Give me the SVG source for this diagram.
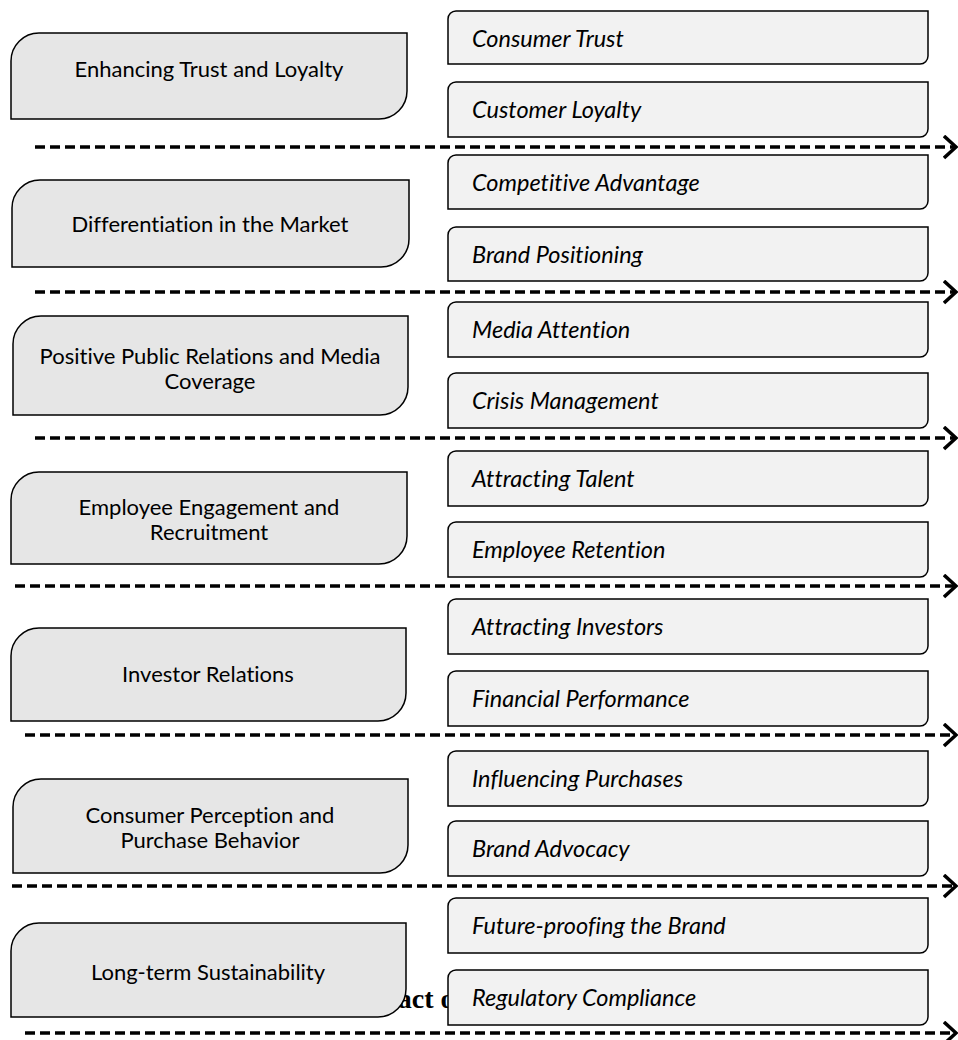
<svg xmlns="http://www.w3.org/2000/svg" width="958" height="1040" viewBox="0 0 958 1040">
<style>
.bg{fill:#fff}
.main{fill:#e6e6e6;stroke:#000;stroke-width:1.5}
.sub{fill:#f2f2f2;stroke:#000;stroke-width:1.5}
.mt{font-family:Lato,"Open Sans",sans-serif;font-size:22px;fill:#000;text-anchor:middle;font-variant-ligatures:none}
.st{font-family:Lato,"Open Sans",sans-serif;font-size:23.5px;font-style:italic;fill:#000;font-variant-ligatures:none}
.conn{fill:none;stroke:#000;stroke-width:3.5;stroke-dasharray:10 5}
.title{font-family:"Liberation Serif","Times New Roman",serif;font-size:28px;font-weight:bold;fill:#000}
</style>
<defs>
<marker id="arr" markerUnits="userSpaceOnUse" markerWidth="16" markerHeight="26" refX="13" refY="12" orient="auto" viewBox="0 0 16 26">
<path d="M1,1 L13,12 L1,23" fill="none" stroke="#000" stroke-width="3.5"/>
</marker>
</defs>
<rect class="bg" x="0" y="0" width="958" height="1040"/>
<text class="title" x="348" y="1008">Impact of</text>
<g id="connectors">
<path class="conn" d="M35,147 H956" marker-end="url(#arr)"/>
<path class="conn" d="M35,292 H956" marker-end="url(#arr)"/>
<path class="conn" d="M35,438 H956" marker-end="url(#arr)"/>
<path class="conn" d="M15,586 H956" marker-end="url(#arr)"/>
<path class="conn" d="M25,735 H956" marker-end="url(#arr)"/>
<path class="conn" d="M12,886 H956" marker-end="url(#arr)"/>
<path class="conn" d="M25,1033 H956" marker-end="url(#arr)"/>
</g>
<g id="n1"><path class="main" d="M39,33 H407 V91 A28,28 0 0 1 379,119 H11 V61 A28,28 0 0 1 39,33 Z"/><text class="mt" x="209" y="77">Enhancing Trust and Loyalty</text></g>
<g id="n2"><path class="main" d="M40,180 H409 V239 A28,28 0 0 1 381,267 H12 V208 A28,28 0 0 1 40,180 Z"/><text class="mt" x="210" y="232">Differentiation in the Market</text></g>
<g id="n3"><path class="main" d="M41,316 H408 V387 A28,28 0 0 1 380,415 H13 V344 A28,28 0 0 1 41,316 Z"/><text class="mt" x="210" y="364">Positive Public Relations and Media</text><text class="mt" x="210" y="389">Coverage</text></g>
<g id="n4"><path class="main" d="M39,472 H407 V536 A28,28 0 0 1 379,564 H11 V500 A28,28 0 0 1 39,472 Z"/><text class="mt" x="209" y="515">Employee Engagement and</text><text class="mt" x="209" y="540">Recruitment</text></g>
<g id="n5"><path class="main" d="M39,628 H406 V693 A28,28 0 0 1 378,721 H11 V656 A28,28 0 0 1 39,628 Z"/><text class="mt" x="208" y="682">Investor Relations</text></g>
<g id="n6"><path class="main" d="M41,779 H408 V845 A28,28 0 0 1 380,873 H13 V807 A28,28 0 0 1 41,779 Z"/><text class="mt" x="210" y="823">Consumer Perception and</text><text class="mt" x="210" y="848">Purchase Behavior</text></g>
<g id="n7"><path class="main" d="M39,923 H406 V989 A28,28 0 0 1 378,1017 H11 V951 A28,28 0 0 1 39,923 Z"/><text class="mt" x="208" y="980">Long-term Sustainability</text></g>
<g id="s1"><path class="sub" d="M456,11 H928 V56 A8,8 0 0 1 920,64 H448 V19 A8,8 0 0 1 456,11 Z"/><text class="st" x="472" y="47">Consumer Trust</text></g>
<g id="s2"><path class="sub" d="M456,82 H928 V129 A8,8 0 0 1 920,137 H448 V90 A8,8 0 0 1 456,82 Z"/><text class="st" x="472" y="118">Customer Loyalty</text></g>
<g id="s3"><path class="sub" d="M456,155 H928 V201 A8,8 0 0 1 920,209 H448 V163 A8,8 0 0 1 456,155 Z"/><text class="st" x="472" y="191">Competitive Advantage</text></g>
<g id="s4"><path class="sub" d="M456,227 H928 V273 A8,8 0 0 1 920,281 H448 V235 A8,8 0 0 1 456,227 Z"/><text class="st" x="472" y="263">Brand Positioning</text></g>
<g id="s5"><path class="sub" d="M456,302 H928 V349 A8,8 0 0 1 920,357 H448 V310 A8,8 0 0 1 456,302 Z"/><text class="st" x="472" y="338">Media Attention</text></g>
<g id="s6"><path class="sub" d="M456,373 H928 V420 A8,8 0 0 1 920,428 H448 V381 A8,8 0 0 1 456,373 Z"/><text class="st" x="472" y="409">Crisis Management</text></g>
<g id="s7"><path class="sub" d="M456,451 H928 V498 A8,8 0 0 1 920,506 H448 V459 A8,8 0 0 1 456,451 Z"/><text class="st" x="472" y="487">Attracting Talent</text></g>
<g id="s8"><path class="sub" d="M456,522 H928 V569 A8,8 0 0 1 920,577 H448 V530 A8,8 0 0 1 456,522 Z"/><text class="st" x="472" y="558">Employee Retention</text></g>
<g id="s9"><path class="sub" d="M456,599 H928 V646 A8,8 0 0 1 920,654 H448 V607 A8,8 0 0 1 456,599 Z"/><text class="st" x="472" y="635">Attracting Investors</text></g>
<g id="s10"><path class="sub" d="M456,671 H928 V718 A8,8 0 0 1 920,726 H448 V679 A8,8 0 0 1 456,671 Z"/><text class="st" x="472" y="707">Financial Performance</text></g>
<g id="s11"><path class="sub" d="M456,751 H928 V798 A8,8 0 0 1 920,806 H448 V759 A8,8 0 0 1 456,751 Z"/><text class="st" x="472" y="787">Influencing Purchases</text></g>
<g id="s12"><path class="sub" d="M456,821 H928 V868 A8,8 0 0 1 920,876 H448 V829 A8,8 0 0 1 456,821 Z"/><text class="st" x="472" y="857">Brand Advocacy</text></g>
<g id="s13"><path class="sub" d="M456,898 H928 V945 A8,8 0 0 1 920,953 H448 V906 A8,8 0 0 1 456,898 Z"/><text class="st" x="472" y="934">Future-proofing the Brand</text></g>
<g id="s14"><path class="sub" d="M456,970 H928 V1017 A8,8 0 0 1 920,1025 H448 V978 A8,8 0 0 1 456,970 Z"/><text class="st" x="472" y="1006">Regulatory Compliance</text></g>
</svg>
